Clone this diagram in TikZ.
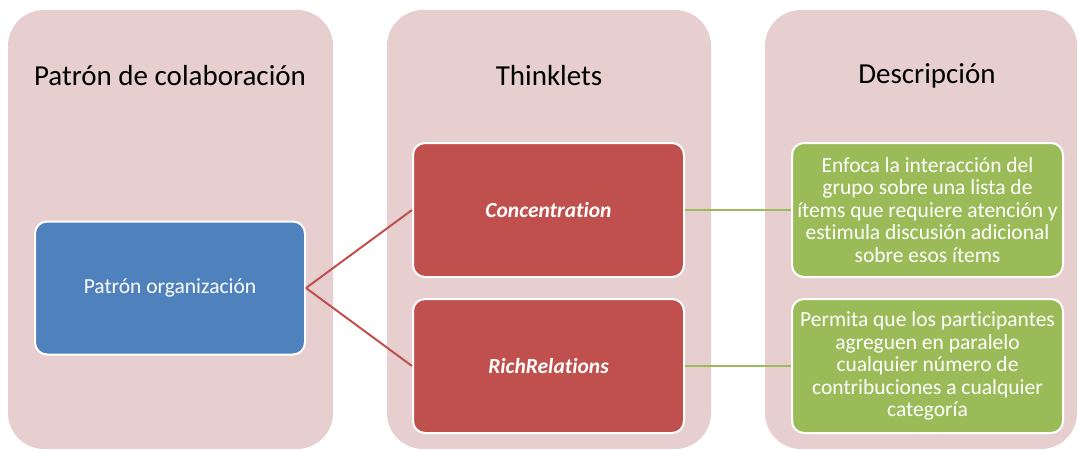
\documentclass[tikz,border=0pt]{standalone}
\usepackage{fontspec}
\setmainfont[Ligatures={NoCommon}]{Carlito}
\definecolor{panelpink}{HTML}{E7CFD0}
\definecolor{accentblue}{HTML}{4F81BD}
\definecolor{accentred}{HTML}{C0504D}
\definecolor{accentgreen}{HTML}{9BBB59}
\begin{document}
\begin{tikzpicture}[x=1pt,y=-1pt,
  panel/.style={fill=panelpink, rounded corners=36pt},
  title/.style={font=\fontsize{29}{32}\selectfont, text=black, inner sep=0pt},
  box/.style={draw=white, line width=2pt, rounded corners=12pt, text=white,
    align=center, inner sep=0pt, minimum width=271pt, minimum height=134pt,
    font=\fontsize{21.5}{22.5}\selectfont},
  bluebox/.style={box, fill=accentblue},
  redbox/.style={box, fill=accentred, font=\fontsize{21.5}{22.5}\selectfont\bfseries\itshape},
  greenbox/.style={box, fill=accentgreen},
  redlink/.style={draw=accentred, line width=2pt},
  greenlink/.style={draw=accentgreen, line width=2pt},
]
\useasboundingbox (0,0) rectangle (1079,450);

% three column panels
\fill[panel] (8,10) rectangle (333,449);
\fill[panel] (387,10) rectangle (711,449);
\fill[panel] (765,10) rectangle (1077,449);

% column headings
\node[title] (h1) at (170,76) {Patrón de colaboración};
\node[title] (h2) at (549,76) {Thinklets};
\node[title] (h3) at (927,76) {Descripción};

% boxes
\node[bluebox, minimum width=270pt, minimum height=133pt] (org) at (170,288) {Patrón organización};
\node[redbox] (conc) at (548.5,210) {Concentration};
\node[redbox] (rich) at (548.5,366) {RichRelations};
\node[greenbox] (d1) at (927.5,210) {Enfoca la interacción del\\grupo sobre una lista de\\ítems que requiere atención y\\estimula discusión adicional\\sobre esos ítems};
\node[greenbox] (d2) at (927.5,366) {Permita que los participantes\\agreguen en paralelo\\cualquier número de\\contribuciones a cualquier\\categoría};

% connectors
\draw[redlink] (org.east) -- (conc.west);
\draw[redlink] (org.east) -- (rich.west);
\draw[greenlink] (conc.east) -- (d1.west);
\draw[greenlink] (rich.east) -- (d2.west);
\end{tikzpicture}
\end{document}
